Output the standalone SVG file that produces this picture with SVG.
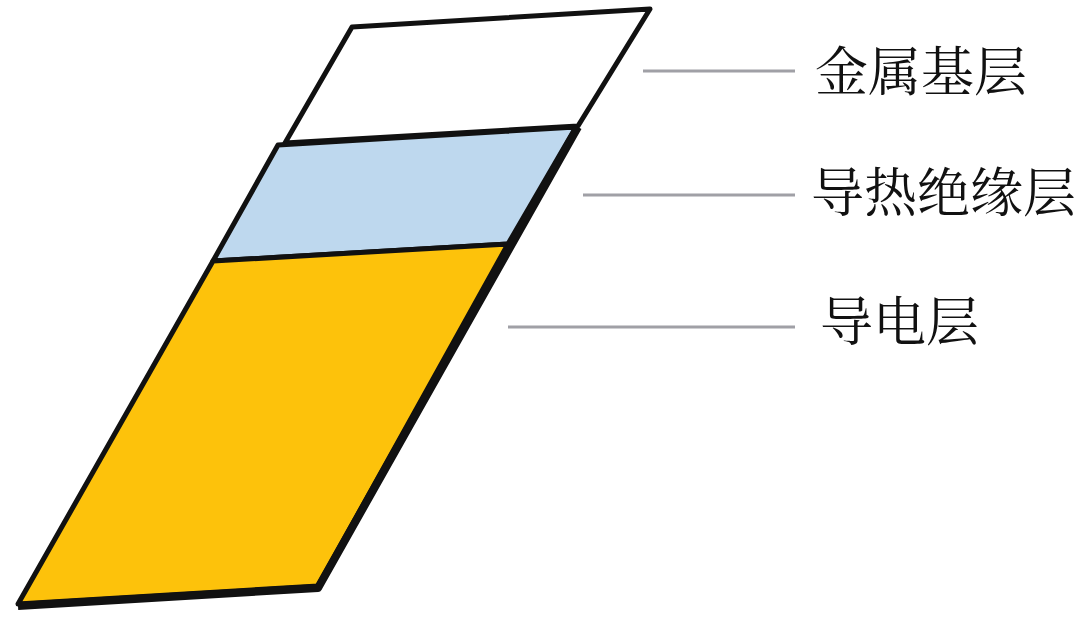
<svg xmlns="http://www.w3.org/2000/svg" width="1080" height="626" viewBox="0 0 1080 626">
<style>
.layer{stroke:#111;stroke-width:5;stroke-linejoin:round}
.lead{stroke:#a0a0a6;stroke-width:3;fill:none}
.lbl{font-family:"Noto Serif CJK SC","Noto Sans CJK SC","Noto Sans",sans-serif;font-size:53px;fill:#111}
</style>
<rect width="1080" height="626" fill="#ffffff"/>
<g id="metal">
<polygon class="layer" fill="#ffffff" points="352,27 650,9 578,126 285,143"/>
</g>
<g id="insulation">
<polygon class="layer" fill="#bed8ee" points="278,145 576,127 508,244 213,261"/>
</g>
<g id="conductor">
<polygon class="layer" fill="#fdc20b" points="213,261 508,244 318,586 18,604"/>
</g>
<polyline fill="none" stroke="#111" stroke-width="8" stroke-linejoin="round" points="578,127 318,588 18,606"/>
<g id="connectors">
<line class="lead" x1="643" y1="71" x2="795" y2="71"/>
<line class="lead" x1="583" y1="195" x2="795" y2="195"/>
<line class="lead" x1="508" y1="327" x2="795" y2="327"/>
</g>
<g id="labels">
<text class="lbl" x="815" y="91">金属基层</text>
<text class="lbl" x="811" y="212">导热绝缘层</text>
<text class="lbl" x="820" y="341">导电层</text>
</g>
</svg>
